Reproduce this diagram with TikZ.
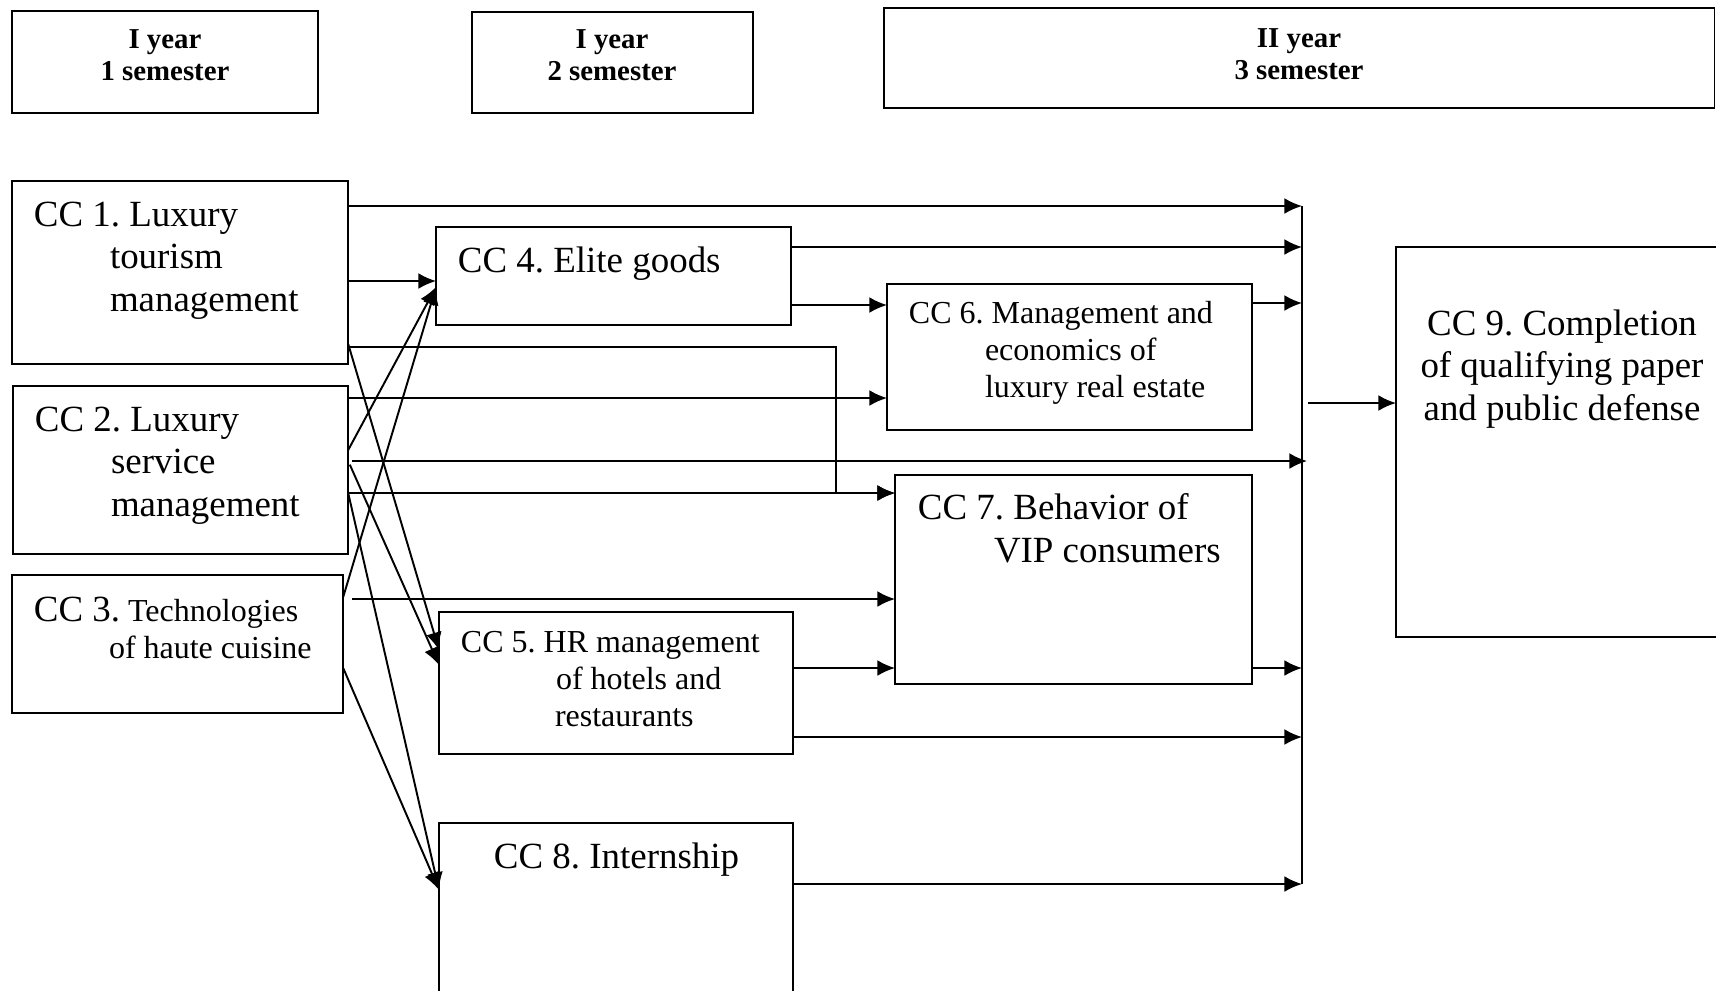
\documentclass[tikz,border=0pt]{standalone}
\usepackage{fontspec}
\setmainfont{Liberation Serif}
\frenchspacing
\usetikzlibrary{arrows.meta}
\begin{document}
\begin{tikzpicture}[>={Latex[length=5pt,width=4.5pt]}, x=0.01cm, y=-0.01cm, line width=0.55pt,
    ccbox/.style={draw, inner sep=0pt, outer sep=0pt, anchor=north west},
    cctext/.style={font=\fontsize{10.5pt}{12pt}\selectfont, align=left, inner sep=0pt, anchor=base west},
    ccsmall/.style={cctext, font=\fontsize{9.1pt}{10.5pt}\selectfont},
    termtext/.style={font=\fontsize{8.2pt}{9.1pt}\selectfont\bfseries, align=center, inner sep=0pt, anchor=base}]
    \useasboundingbox (0,0) rectangle (1716,990);
    \clip (0,0) rectangle (1716,990);
    % terms begin (text placed at the baseline of its last line)
    \node[ccbox, minimum width=3.06cm, minimum height=1.02cm] (term1) at (12,11) {};
    \node[termtext] (term1text) at (165,80) {I year\\1 semester};
    \node[ccbox, minimum width=2.81cm, minimum height=1.01cm] (term2) at (472,12) {};
    \node[termtext] (term2text) at (612,80) {I year\\2 semester};
    \node[ccbox, minimum width=8.30cm, minimum height=1.00cm] (term3) at (884,8) {};
    \node[termtext] (term3text) at (1299,79) {II year\\3 semester};
    % terms end
    % courses begin
    \node[ccbox, minimum width=3.36cm, minimum height=1.83cm] (cc1) at (12,181) {};
    \node[cctext] (cc1text) at (33,311) {CC 1. Luxury\\\hspace*{0.76cm}tourism\\\hspace*{0.76cm}management};
    \node[ccbox, minimum width=3.35cm, minimum height=1.68cm] (cc2) at (13,386) {};
    \node[cctext] (cc2text) at (34,516) {CC 2. Luxury\\\hspace*{0.76cm}service\\\hspace*{0.76cm}management};
    \node[ccbox, minimum width=3.31cm, minimum height=1.38cm] (cc3) at (12,575) {};
    \node[ccsmall] (cc3text) at (33,658) {{\fontsize{10.5pt}{12pt}\selectfont CC 3.} Technologies\\\hspace*{0.75cm}of haute cuisine};
    \node[ccbox, minimum width=3.55cm, minimum height=0.98cm] (cc4) at (436,227) {};
    \node[cctext] (cc4text) at (457,272) {CC 4. Elite goods};
    \node[ccbox, minimum width=3.54cm, minimum height=1.42cm] (cc5) at (439,612) {};
    \node[ccsmall] (cc5text) at (460,726) {CC 5. HR management\\\hspace*{0.95cm}of hotels and\\\hspace*{0.94cm}restaurants};
    \node[ccbox, minimum width=3.65cm, minimum height=1.46cm] (cc6) at (887,284) {};
    \node[ccsmall] (cc6text) at (908,397) {CC 6. Management and\\\hspace*{0.76cm}economics of\\\hspace*{0.76cm}luxury real estate};
    \node[ccbox, minimum width=3.57cm, minimum height=2.09cm] (cc7) at (895,475) {};
    \node[cctext] (cc7text) at (917,562) {CC 7. Behavior of\\\hspace*{0.76cm}VIP consumers};
    \node[ccbox, minimum width=3.54cm, minimum height=2.00cm] (cc8) at (439,823) {};
    \node[cctext] (cc8text) at (493,868) {CC 8. Internship};
    \node[ccbox, minimum width=3.40cm, minimum height=3.90cm] (cc9) at (1396,247) {};
    \node[cctext, align=center, anchor=base] (cc9text) at (1562,420) {CC 9. Completion\\of qualifying paper\\and public defense};
    % courses end
    % bus begin
    \coordinate (bus1) at (1302,206);
    \coordinate (bus2) at (1302,247);
    \coordinate (bus3) at (1302,303);
    \coordinate (bus4) at (1307,461);
    \coordinate (bus5) at (1302,668);
    \coordinate (bus6) at (1302,737);
    \coordinate (bus7) at (1302,884);
    \coordinate (busout) at (1308,403);
    \draw (bus1) -- (bus7);
    \draw[->] (busout) -- (cc9.west |- busout);
    % bus end
    \draw[->] (cc1.east |- bus1) -- (bus1);
    \draw[->] (cc1.east |- 0,281) -- (cc4.west |- 0,281);
    \draw[->] (cc1.east |- 0,347) -| (836,493) -- (cc7.west |- 0,493);
    \draw[->] (cc1.east |- 0,344) -- (cc5.west |- 0,650);
    \draw[->] (cc2.east |- 0,450) -- (cc4.west |- 0,287);
    \draw[->] (cc2.east |- 0,398) -- (cc6.west |- 0,398);
    \draw[->, shorten <=0.04cm] (cc2.east |- bus4) -- (bus4);
    \draw[->, shorten <=0.04cm] (cc2.east |- 0,461) -- (cc5.west |- 0,665);
    \draw[->] (cc2.east |- 0,493) -- (cc7.west |- 0,493);
    \draw[->] (cc2.east |- 0,493) -- (cc8.west |- 0,890);
    \draw[->] (cc3.east |- 0,597) -- (cc4.west |- 0,287);
    \draw[->, shorten <=0.09cm] (cc3.east |- 0,599) -- (cc7.west |- 0,599);
    \draw[->] (cc3.east |- 0,668) -- (cc8.west |- 0,890);
    \draw[->] (cc4.east |- bus2) -- (bus2);
    \draw[->] (cc4.east |- 0,305) -- (cc6.west |- 0,305);
    \draw[->] (cc6.east |- bus3) -- (bus3);
    \draw[->] (cc5.east |- 0,668) -- (cc7.west |- 0,668);
    \draw[->] (cc5.east |- bus6) -- (bus6);
    \draw[->] (cc7.east |- bus5) -- (bus5);
    \draw[->] (cc8.east |- bus7) -- (bus7);
\end{tikzpicture}
\end{document}
